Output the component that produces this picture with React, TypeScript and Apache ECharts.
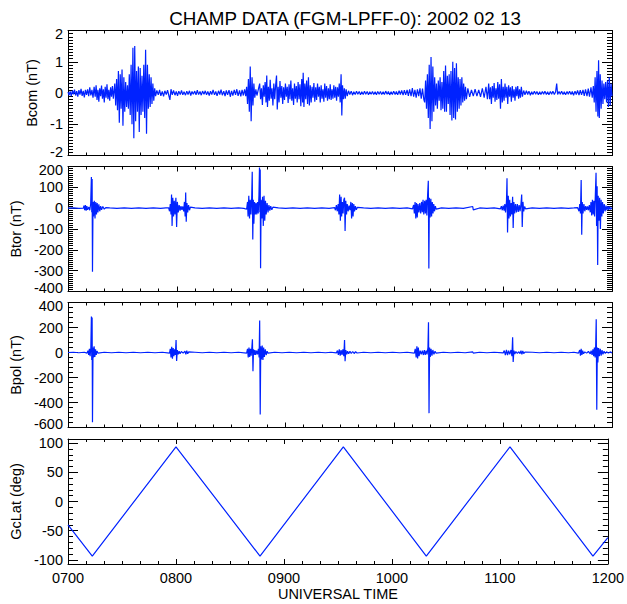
import React, { useEffect, useRef } from 'react';
import * as echarts from 'echarts';

// ---- DATA (time = UT minute of day, value) ----
const titleText = 'CHAMP DATA (FGM-LPFF-0): 2002 02 13';
const xAxisTitle = 'UNIVERSAL TIME';
const timeLabels: Record<number, string> = { 420: '0700', 480: '0800', 540: '0900', 600: '1000', 660: '1100', 720: '1200' };
const panelTitles = ['Bcom (nT)', 'Btor (nT)', 'Bpol (nT)', 'GcLat (deg)'];
const gclatMajorTicks = [-100, -50, 0, 50, 100];
const gclatMinorTicks = [-100, -90, -80, -70, -60, -50, -40, -30, -20, -10, 0, 10, 20, 30, 40, 50, 60, 70, 80, 90, 100];

const bcomData: [number, number][] = [
  [420, 0.03], [420.6, -0.07], [421.2, 0.05], [421.8, -0.1], [422.4, 0.08], [423, -0.04], [423.6, 0.11], [424.2, -0.08], [424.8, 0.06], [425.4, -0.12], [426, 0.09], [426.6, -0.05], [427.2, 0.13], [427.8, -0.09], [428.4, 0.07], [429, -0.14], [429.6, 0.1], [430.2, -0.06], [430.8, 0.12], [431.4, -0.1], [432, 0.18], [432.6, -0.08], [433.2, 0.1], [433.8, -0.15],
  [434.4, 0.2], [435, -0.12], [435.5, 0.25], [436, -0.22], [436.5, 0.1], [437, -0.28], [437.5, 0.15], [438, -0.1], [438.5, 0.24], [439, -0.18], [439.5, 0.12], [440, -0.3], [440.5, 0.2], [441, -0.15], [441.5, 0.28], [442, -0.2], [442.5, 0.1], [443, -0.25], [443.5, 0.18], [444, -0.12], [444.5, 0.22], [445, -0.18],
  [445.8, 0.3], [446.3, -0.4], [446.8, 0.45], [447.3, -0.55], [447.8, 0.7], [448.3, -0.95], [448.8, 0.6], [449.3, -0.5], [449.8, 0.75], [450.3, -1.05], [450.8, 0.5], [451.3, -0.6], [451.8, 0.35], [452.3, -0.45], [452.8, 0.25], [453.3, -0.5], [453.8, 0.6], [454.3, -0.7], [454.8, 0.9], [455.3, -1.0], [455.8, 1.45], [456.3, -1.45], [456.8, 1.5], [457.3, -0.9], [457.8, 0.7], [458.3, -0.6], [458.8, 0.85], [459.3, -1.25], [459.8, 0.8], [460.3, -0.7], [460.8, 0.55], [461.3, -0.6], [461.8, 0.9], [462.3, -0.8], [462.8, 1.38], [463.3, -1.3], [463.8, 0.9], [464.3, -0.5], [464.8, 0.6], [465.3, -0.45], [465.8, 0.5], [466.3, -0.35], [466.8, 0.3], [467.3, -0.25], [467.8, 0.15],
  [468.3, -0.1], [469, 0.08], [469.8, -0.06], [470.5, 0.1], [471.2, -0.09], [472, 0.05], [472.7, -0.11], [473.4, 0.07], [474.2, -0.05], [474.9, 0.09], [475.6, -0.08], [476.2, -0.22], [476.8, 0.12], [477.5, -0.06], [478.2, 0.08], [479, -0.07], [479.7, 0.05], [480.4, -0.09], [481.1, 0.06], [481.9, -0.05], [482.6, 0.08], [483.3, -0.06], [484, 0.04], [484.8, -0.07], [485.5, 0.06], [486.2, -0.05], [487, 0.07], [487.7, -0.08], [488.4, 0.05], [489.1, -0.04], [489.9, 0.06], [490.6, -0.06], [491.3, 0.09], [492, -0.05], [492.8, 0.05], [493.5, -0.07], [494.2, 0.06], [495, -0.04], [495.7, 0.07], [496.4, -0.06], [497.1, 0.05], [497.9, -0.08], [498.6, 0.06], [499.3, -0.05], [500, 0.1], [500.8, -0.06], [501.5, 0.05], [502.2, -0.09], [503, 0.07], [503.7, -0.05], [504.4, 0.11], [505.1, -0.07], [505.9, 0.06], [506.6, -0.1], [507.3, 0.08], [508, -0.06], [508.8, 0.09], [509.5, -0.12], [510.2, 0.07], [510.9, -0.08], [511.7, 0.1], [512.4, -0.06], [513.1, 0.12], [513.8, -0.09], [514.6, 0.08], [515.3, -0.11], [516, 0.1], [516.7, -0.08], [517.4, 0.12], [518, -0.1],
  [518.5, 0.2], [519, -0.35], [519.5, 0.45], [520, -0.6], [520.5, 0.85], [521, -0.9], [521.5, 0.5], [522, -0.4], [522.5, 0.3], [523, -0.15], [523.6, 0.12], [524.2, -0.08], [524.9, 0.1],
  [525.7, 0.3], [526.2, -0.2], [526.7, 0.15], [527.2, -0.38], [527.7, 0.25], [528.2, -0.12], [528.7, 0.35], [529.2, -0.3], [529.6, 0.56], [530, -0.45], [530.5, 0.2], [531, -0.25], [531.5, 0.42], [532, -0.18], [532.5, 0.15], [533, -0.4], [533.5, 0.3], [534, -0.2], [534.5, 0.25], [535, 0.56], [535.4, -0.53], [535.9, 0.2], [536.4, -0.3], [536.9, 0.38], [537.4, -0.15], [537.9, 0.22], [538.4, -0.35], [538.9, 0.18], [539.4, -0.22], [539.9, 0.3], [540.4, -0.12], [540.9, 0.2], [541.4, -0.32], [541.9, 0.28], [542.4, -0.2], [542.9, 0.4], [543.4, -0.25], [543.9, 0.15], [544.4, -0.38], [544.9, 0.3], [545.4, -0.18], [545.9, 0.22], [546.4, -0.3], [546.9, 0.35], [547.4, -0.2], [547.9, 0.28], [548.4, -0.42], [548.9, 0.45], [549.4, -0.3], [549.7, 0.65], [550.1, -0.45], [550.6, 0.3], [551.1, -0.2], [551.6, 0.4], [552.1, -0.35], [552.6, 0.5], [553.1, -0.4], [553.6, 0.25], [554.1, -0.3], [554.6, 0.2], [555.1, -0.15], [555.6, 0.32], [556.1, -0.28], [556.6, 0.18], [557.1, -0.22], [557.6, 0.3], [558.1, -0.12], [558.6, 0.2], [559.1, -0.3], [559.6, 0.25], [560.1, -0.18], [560.6, 0.12], [561.1, -0.28], [561.6, 0.3], [562.1, -0.15], [562.6, 0.22], [563.1, -0.25], [563.6, 0.15], [564.1, -0.2], [564.6, 0.28], [565.1, -0.22], [565.6, 0.12], [566.1, -0.18], [566.6, 0.25], [567.1, -0.15], [567.6, 0.2], [568.1, -0.25], [568.6, 0.18], [569.1, -0.12], [569.6, 0.3], [570.1, -0.3], [570.6, 0.6], [571, -0.72], [571.4, 0.25], [571.9, -0.2], [572.4, 0.15], [572.9, -0.18], [573.4, 0.12], [574, -0.1],
  [574.7, 0.07], [575.4, -0.05], [576.2, 0.06], [576.9, -0.07], [577.6, 0.04], [578.4, -0.05], [579.1, 0.06], [579.8, -0.04], [580.6, 0.05], [581.3, -0.06], [582, 0.04], [582.8, -0.05], [583.5, 0.06], [584.2, -0.04], [585, 0.05], [585.7, -0.06], [586.4, 0.04], [587.2, -0.04], [587.9, 0.05], [588.6, -0.05], [589.4, 0.04], [590.1, -0.06], [590.8, 0.05], [591.6, -0.04], [592.3, 0.05], [593, -0.05], [593.8, 0.04], [594.5, -0.05], [595.2, 0.06], [596, -0.04], [596.7, 0.05], [597.4, -0.06], [598.2, 0.04], [598.9, -0.05], [599.6, 0.06], [600.4, -0.05], [601.1, 0.05], [601.8, -0.06], [602.6, 0.07], [603.3, -0.05], [604, 0.08], [604.8, -0.07], [605.5, 0.09], [606.2, -0.06], [607, 0.1], [607.7, -0.09], [608.4, 0.12], [609.2, -0.1], [609.9, 0.16], [610.6, -0.12], [611.3, 0.1], [612, -0.15], [612.7, 0.12], [613.4, -0.1], [614.1, 0.15], [614.8, -0.18], [615.5, 0.14], [616.2, -0.2],
  [616.7, -0.3], [617.2, 0.4], [617.7, -0.5], [618.2, 0.6], [618.7, -0.8], [619.2, 0.9], [619.7, -1.15], [620.2, 1.15], [620.7, -0.9], [621.2, 0.85], [621.7, -0.6], [622.2, 0.5], [622.7, -0.4], [623.2, 0.3], [623.7, -0.5], [624.2, 0.4], [624.7, -0.25], [625.2, 0.5], [625.7, -0.55], [626.2, 0.35], [626.7, -0.5], [627.2, 0.7], [627.7, -0.6], [628.2, 0.88], [628.7, -0.6], [629.2, 0.55], [629.7, -0.35], [630.2, 0.6], [630.7, -0.7], [631.2, 0.7], [631.7, -0.88], [632.2, 1.0], [632.7, -0.8], [633.2, 0.8], [633.7, -0.85], [634.2, 0.95], [634.7, -0.6], [635.2, 0.5], [635.7, -0.5], [636.2, 0.45], [636.7, -0.4], [637.2, 0.5], [637.7, -0.3], [638.2, 0.3], [638.7, -0.25], [639.2, 0.2], [639.7, -0.2],
  [640.5, 0.15], [641.5, -0.12], [642.5, 0.1], [643.5, -0.1], [644.5, 0.12], [645.5, -0.1], [646.5, 0.1], [647.5, -0.12], [648.5, 0.15], [649.5, -0.15], [650.5, 0.2], [651.3, -0.2],
  [652, 0.3], [652.5, -0.2], [653, 0.18], [653.5, -0.35], [654, 0.22], [654.5, -0.15], [655, 0.32], [655.5, -0.28], [656, 0.15], [656.5, -0.22], [657, 0.35], [657.5, -0.18], [658, 0.28], [658.5, -0.5], [659, 0.45], [659.5, -0.3], [660, 0.2], [660.5, -0.25], [661, 0.3], [661.5, -0.15], [662, 0.2], [662.5, -0.35], [663, 0.25], [663.5, -0.12], [664, 0.18], [664.5, -0.28], [665, 0.22], [665.5, -0.15], [666, 0.12], [666.5, -0.25], [667, 0.2], [667.5, -0.1], [668, 0.22], [668.5, -0.18], [669, 0.12], [669.5, -0.15], [670, 0.2], [670.6, -0.12],
  [671.3, 0.08], [672, -0.06], [672.8, 0.07], [673.5, -0.05], [674.2, 0.06], [675, -0.07], [675.7, 0.04], [676.4, -0.05], [677.2, 0.06], [677.9, -0.04], [678.6, 0.05], [679.4, -0.06], [680.1, 0.04], [680.8, -0.05], [681.6, 0.05], [682.3, -0.04], [683, 0.06], [683.8, -0.05], [684.5, 0.04], [685.2, -0.06], [686, 0.05], [686.7, -0.04], [687.4, 0.06], [688.2, -0.05], [688.9, 0.04], [689.5, 0.3], [690, -0.05], [690.8, 0.05], [691.5, -0.04], [692.2, 0.06], [693, -0.05], [693.7, 0.04], [694.4, -0.06], [695.2, 0.05], [695.9, -0.04], [696.6, 0.06], [697.4, -0.05], [698.1, 0.05], [698.8, -0.07], [699.6, 0.06], [700.3, -0.05], [701, 0.08], [701.8, -0.07], [702.5, 0.09], [703.2, -0.06], [704, 0.1], [704.7, -0.09], [705.4, 0.12], [706.2, -0.1], [706.9, 0.14], [707.6, -0.12], [708.4, 0.18], [709.1, -0.15], [709.7, 0.22],
  [710.2, -0.3], [710.7, 0.5], [711.2, -0.6], [711.7, 0.7], [712.2, -0.75], [712.6, 1.05], [713, -0.8], [713.5, 0.6], [714, -0.5], [714.5, 0.4], [715, -0.35], [715.5, 0.3], [716, -0.2], [716.5, 0.35], [717, -0.3], [717.5, 0.4], [718, -0.45], [718.5, 0.5], [719, -0.4], [719.5, 0.3], [720, -0.1],
];

const btorData: [number, number][] = [
  [420, 0], [423, 1], [426, -1],
  [428.5, 0], [428.8, 12], [429.2, -10], [429.6, 15], [430, -12], [430.4, 10], [430.8, -8], [431.5, 5], [432, -10], [432.5, 20], [432.9, 150], [433.1, -20], [433.3, 140], [433.5, -305], [433.8, 30], [434.1, -40], [434.5, 35], [434.9, -50], [435.3, 30], [435.7, -30], [436.1, 25], [436.5, -20], [437, 18], [437.5, -15], [438, 10], [438.5, -8], [439.2, 8], [440, -5], [440.8, 3],
  [443, 1], [447, -1], [451, 1], [455, -1], [459, 1], [463, -1], [467, 1], [471, -1], [474, 1],
  [475.5, 2], [476, -15], [476.4, 20], [476.8, -30], [477.1, 65], [477.4, -85], [477.8, 50], [478.2, -40], [478.6, 35], [479, -30], [479.5, 50], [479.9, -90], [480.3, 30], [480.8, -20], [481.3, 15], [481.8, -12], [482.3, 10], [482.8, -8], [483.3, 8], [483.8, -15], [484.2, 30], [484.6, -40], [484.9, 75], [485.2, -65], [485.6, 25], [486, -20], [486.5, 15], [487, -10], [487.5, 5],
  [490, 1], [494, -1], [498, 1], [502, -1], [506, 1], [510, -1], [514, 1], [517, -1],
  [518.5, -5], [519, 30], [519.3, -40], [519.7, 60], [520.1, -50], [520.5, 40], [520.9, -30], [521.3, 50], [521.6, 175], [521.9, -150], [522.2, 40], [522.5, -75], [522.9, 30], [523.3, -30], [523.7, 25], [524.1, -30], [524.5, 30], [524.9, -25], [525.3, 60], [525.6, 195], [525.8, -20], [526, 185], [526.2, -288], [526.5, 40], [526.9, -50], [527.3, 55], [527.7, -85], [528.1, 60], [528.5, -60], [528.9, 35], [529.3, -30], [529.8, 25], [530.3, -20], [530.8, 15], [531.3, -12], [531.8, 10], [532.4, -8], [533, 5],
  [536, 1], [540, -1], [544, 1], [548, -1], [552, 1], [556, -1], [560, 1], [564, -1],
  [567, 3], [567.5, -10], [568, 15], [568.5, -15], [569, 20], [569.4, -30], [569.8, 65], [570.2, -60], [570.6, 55], [570.9, -40], [571.3, 30], [571.7, -25], [572.1, 40], [572.5, 50], [572.8, -110], [573.2, 35], [573.6, -30], [574, 20], [574.5, -15], [575, 12], [575.5, -10], [576, 30], [576.4, -50], [576.8, 25], [577.2, -40], [577.6, 20], [578, -15], [578.5, 10], [579, -8], [579.6, 4],
  [583, 1], [587, -1], [591, 1], [595, -1], [599, 1], [603, -1], [607, 1],
  [610, -3], [610.6, 15], [611, -25], [611.4, 30], [611.8, -50], [612.2, 25], [612.6, -45], [613, 20], [613.5, -20], [614, 25], [614.5, -25], [615, 30], [615.4, -20], [615.8, 40], [616.2, -30], [616.7, 35], [617.1, -25], [617.5, 40], [617.9, -35], [618.3, 60], [618.7, 132], [619, -289], [619.3, 50], [619.7, -45], [620.1, 45], [620.5, -40], [620.9, 30], [621.3, -25], [621.7, 20], [622.1, -15], [622.6, 10], [623, -5],
  [626, 1], [630, -1], [634, 1], [638, -1], [643.2, 8], [643.5, -8], [647, 1], [651, -1], [655, 1],
  [658.5, -3], [659, 10], [659.5, -10], [660, 12], [660.5, -12], [660.9, 20], [661.3, -20], [661.8, 30], [662.1, 143], [662.4, -117], [662.8, 60], [663.2, -50], [663.6, 40], [664, -40], [664.4, 25], [664.8, -30], [665.2, 55], [665.5, -95], [665.9, 30], [666.3, -25], [666.8, 20], [667.3, -20], [667.8, 20], [668.3, -18], [668.8, 15], [669.3, -15], [669.8, 20], [670.2, 65], [670.5, -90], [670.9, 30], [671.3, -15], [671.8, 8], [672.3, -3],
  [676, 1], [680, -1], [684, 1], [688, -1], [692, 1], [696, -1], [699, 1],
  [701, 3], [701.8, -15], [702.2, 20], [702.6, -25], [703, 135], [703.3, -128], [703.6, 30], [704, -25], [704.5, 20], [705, -15], [705.5, 10], [706, -8], [706.5, 8], [707, -10], [707.5, 15], [708, -20], [708.4, 30], [708.8, -35], [709.2, 40], [709.6, -30], [710, 35], [710.4, -40], [710.8, 60], [711.2, 170], [711.5, -85], [711.8, 105], [712.1, -273], [712.4, 60], [712.8, -60], [713.2, 50], [713.6, -100], [714, 40], [714.4, -40], [714.8, 30], [715.2, -25], [715.7, 20], [716.2, -15], [716.7, 12], [717.2, -10], [717.7, 10], [718.2, -8], [718.7, 8], [719.2, -6], [720, 3],
];

const bpolData: [number, number][] = [
  [420, 0], [423, 2], [426, -2], [429, 2],
  [430.5, -5], [431, 15], [431.4, -20], [431.8, 30], [432.2, -30], [432.6, 40], [432.9, 287], [433.1, -60], [433.3, 280], [433.5, -558], [433.8, 40], [434.1, -40], [434.4, 50], [434.8, -35], [435.2, 25], [435.6, -20], [436, 12], [436.5, -5],
  [440, 2], [444, -2], [448, 2], [452, -2], [456, 2], [460, -2], [464, 2], [468, -2], [472, 2],
  [476, -5], [476.4, 30], [476.8, -40], [477.2, 45], [477.6, -50], [478, 35], [478.4, -30], [478.8, 25], [479.2, -20], [479.6, 100], [479.9, -67], [480.3, 20], [480.8, -15], [481.3, 10], [481.8, -10], [482.5, 8], [483.5, -5], [484.5, 10], [485, -15], [485.5, 15], [486, -10], [486.6, 5],
  [490, 2], [494, -2], [498, 2], [502, -2], [506, 2], [510, -2], [514, 2],
  [518.5, -5], [519, 30], [519.4, -40], [519.8, 40], [520.2, -35], [520.6, 30], [521, -25], [521.4, 40], [521.7, 105], [522, -150], [522.3, 25], [522.7, -20], [523.1, 20], [523.5, -20], [524, 15], [524.5, -15], [525, 30], [525.4, -40], [525.7, 255], [526, -496], [526.3, 50], [526.7, -55], [527.1, 55], [527.5, -60], [527.9, 40], [528.3, -35], [528.8, 25], [529.3, -20], [529.8, 10], [530.3, -5],
  [534, 2], [538, -2], [542, 2], [546, -2], [550, 2], [554, -2], [558, 2], [562, -2], [565, 2],
  [568, -3], [568.6, 15], [569.1, -20], [569.6, 25], [570.1, -25], [570.6, 20], [571.1, -20], [571.6, 25], [572.1, -30], [572.5, 100], [572.8, -70], [573.2, 20], [573.7, -15], [574.2, 10], [574.8, -10], [575.5, 10], [576.2, -8], [577, 8], [577.8, -8], [578.6, 6], [579.4, -4],
  [583, 2], [587, -2], [591, 2], [595, -2], [599, 2], [603, -2], [607, 2],
  [611, -5], [611.5, 30], [612, -40], [612.4, 50], [612.8, -48], [613.2, 40], [613.6, -30], [614.2, 15], [614.8, -15], [615.4, 15], [616, -20], [616.5, 20], [617, -20], [617.5, 15], [618, -15], [618.5, 40], [618.8, 241], [619.1, -485], [619.4, 40], [619.8, -35], [620.2, 30], [620.7, -25], [621.2, 20], [621.8, -15], [622.4, 10], [623, -5],
  [627, 2], [631, -2], [635, 2], [639, -2], [643.2, 5], [643.5, -5], [647, 2], [651, -2], [655, 2],
  [660, -3], [660.6, 15], [661.2, -20], [661.8, 20], [662.4, -20], [663, 15], [663.6, -15], [664.3, 20], [664.8, -30], [665.2, 121], [665.5, -75], [665.9, 15], [666.4, -12], [667, 8], [667.8, -8], [668.5, 6], [669.3, -8], [669.8, 15], [670.3, -15], [670.8, 12], [671.3, -8], [672, 3],
  [676, 2], [680, -2], [684, 2], [688, -2], [692, 2], [696, -2], [699, 2],
  [701.5, -5], [702.2, 20], [702.6, -25], [703, 30], [703.4, -20], [703.8, 15], [704.3, -10], [705, 5], [706, -5], [707, 8], [708, -10], [708.5, 15], [709, -20], [709.5, 25], [709.9, -30], [710.3, 40], [710.7, -40], [711, 50], [711.3, 265], [711.6, -458], [711.9, 40], [712.2, -80], [712.6, 35], [713, -30], [713.5, 30], [714, -25], [714.5, 20], [715, -15], [715.6, 10], [716.3, -8], [717, 6], [718, -5], [719, 5], [720, -3],
];

const gclatData: [number, number][] = [
  [420, -40], [433.5, -93.6], [480, 93.7], [526.7, -93.6], [573, 93.7], [619.1, -93.6], [665.6, 93.7], [711.7, -93.6], [720, -62],
];

// ---- STYLE / LAYOUT ----
const FONT = '"Liberation Sans", Arial, Helvetica, sans-serif';
const BLUE = '#0022ff';
const FS = 14.5;
const PLOT_W = 544;
const T0 = 420;
const T1 = 720;

type Panel = {
  top: number; height: number; min: number; max: number; interval?: number; minorSplit?: number;
  gap: number; data: [number, number][]; custom?: boolean;
};

const panels: Panel[] = [
  { top: 30.5, height: 125, min: -2, max: 2, interval: 1, minorSplit: 10, gap: 24, data: bcomData },
  { top: 166.5, height: 125, min: -400, max: 200, interval: 100, minorSplit: 10, gap: 40, data: btorData },
  { top: 302.5, height: 125, min: -600, max: 400, interval: 200, minorSplit: 5, gap: 40, data: bpolData },
  { top: 439, height: 125, min: -107, max: 107, gap: 40, data: gclatData, custom: true },
];

function buildOption() {
  const grid: any[] = [];
  const xAxis: any[] = [];
  const yAxis: any[] = [];
  const series: any[] = [];
  const axisLineStyle = { color: '#000', width: 1 };
  const tickStyle = { color: '#000', width: 1 };
  const textBase = { fontFamily: FONT, fontSize: FS, color: '#000' };
  const off = { splitLine: { show: false }, minorSplitLine: { show: false } };

  panels.forEach((p, i) => {
    grid.push({ left: 68, width: PLOT_W, top: p.top, height: p.height, containLabel: false });
    const isLast = i === panels.length - 1;
    ['bottom', 'top'].forEach((pos) => {
      const labelled = isLast && pos === 'bottom';
      xAxis.push({
        type: 'value', gridIndex: i, position: pos, min: T0, max: T1, interval: 60,
        name: labelled ? xAxisTitle : '', nameLocation: 'middle', nameGap: 22,
        nameTextStyle: textBase,
        axisLine: { show: true, onZero: false, lineStyle: axisLineStyle },
        axisTick: { show: true, inside: true, length: 5, lineStyle: tickStyle },
        minorTick: { show: true, splitNumber: 6, length: 3, lineStyle: tickStyle },
        axisLabel: {
          show: labelled, margin: 6, ...textBase,
          formatter: (v: number) => timeLabels[Math.round(v)] ?? '',
        },
        ...off,
      });
    });
    const yIndex = yAxis.length;
    ['left', 'right'].forEach((pos) => {
      const labelled = pos === 'left';
      const nameCfg = {
        name: labelled ? panelTitles[i] : '', nameLocation: 'middle', nameGap: p.gap, nameRotate: 90,
        nameTextStyle: textBase,
      };
      if (!p.custom) {
        yAxis.push({
          type: 'value', gridIndex: i, position: pos, min: p.min, max: p.max, interval: p.interval,
          ...nameCfg,
          axisLine: { show: true, onZero: false, lineStyle: axisLineStyle },
          axisTick: { show: true, inside: true, length: 10, lineStyle: tickStyle },
          minorTick: { show: true, splitNumber: p.minorSplit, length: 5, lineStyle: tickStyle },
          axisLabel: {
            show: labelled, margin: 5, ...textBase,
            formatter: (v: number) => (v === p.max ? `{t|${v}}` : v === p.min ? `{b|${v}}` : `${v}`),
            rich: {
              t: { ...textBase, padding: [6, 0, 0, 0] },
              b: { ...textBase, padding: [0, 0, 7, 0] },
            },
          },
          ...off,
        });
      } else {
        yAxis.push({
          type: 'value', gridIndex: i, position: pos, min: p.min, max: p.max,
          ...nameCfg,
          axisLine: { show: true, onZero: false, lineStyle: axisLineStyle },
          axisTick: { show: true, inside: true, length: 10, lineStyle: tickStyle, customValues: gclatMajorTicks },
          minorTick: { show: false },
          axisLabel: { show: labelled, margin: 5, ...textBase, customValues: gclatMajorTicks },
          ...off,
        });
        yAxis.push({
          type: 'value', gridIndex: i, position: pos, min: p.min, max: p.max,
          axisLine: { show: false, onZero: false },
          axisTick: { show: true, inside: true, length: 5, lineStyle: tickStyle, customValues: gclatMinorTicks },
          minorTick: { show: false },
          axisLabel: { show: false },
          ...off,
        });
      }
    });
    series.push({
      type: 'line', xAxisIndex: i * 2, yAxisIndex: yIndex, data: p.data,
      showSymbol: false, symbol: 'none', clip: true, z: 3,
      lineStyle: { color: BLUE, width: 1.2 }, itemStyle: { color: BLUE },
    });
  });

  return {
    animation: false,
    backgroundColor: '#fff',
    title: {
      text: titleText, left: 340, top: 4, textAlign: 'center',
      textStyle: { fontFamily: FONT, fontSize: 18.8, fontWeight: 'normal', color: '#000' },
    },
    grid, xAxis, yAxis, series,
  };
}

export default function App() {
  const ref = useRef<HTMLDivElement>(null);
  useEffect(() => {
    const chart = echarts.init(ref.current!, null, { renderer: 'svg' });
    chart.setOption(buildOption() as any);
    return () => chart.dispose();
  }, []);
  return (
    <div
      ref={ref}
      style={{ position: 'absolute', left: 0, top: 0, width: 627, height: 604, background: '#fff' }}
    />
  );
}
